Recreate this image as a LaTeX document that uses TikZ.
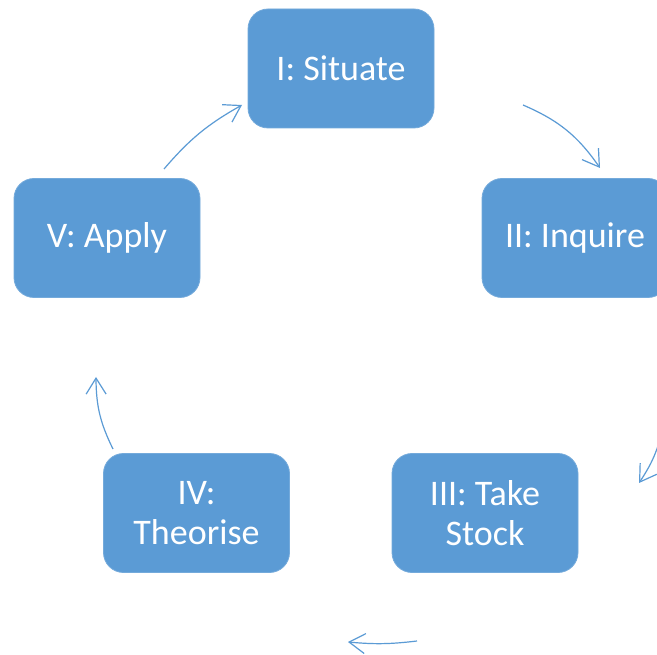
\documentclass[tikz,border=0pt]{standalone}
\usepackage{fontspec}
\setmainfont{Carlito}
\usetikzlibrary{arrows.meta}
\definecolor{boxblue}{HTML}{5B9BD5}
\definecolor{arrblue}{HTML}{5B9BD5}
\tikzset{
  stagebox/.style={fill=boxblue, draw=boxblue!85!white, line width=0.8pt, rounded corners=20pt,
    minimum width=186pt, minimum height=119pt, inner sep=0pt, text=white, align=center,
    font=\fontsize{36}{40}\selectfont},
  cyclearrow/.style={draw=arrblue, line width=1.2pt,
    -{Straight Barb[length=16pt, width=20pt, line width=1.2pt]}},
}
\begin{document}
\begin{tikzpicture}[x=1pt, y=1pt]
\clip (0,0) rectangle (657,-655);
\fill[white] (0,0) rectangle (657,-655);
\node[stagebox] (s1) at (341,-68.5) {I: Situate};
\node[stagebox] (s2) at (575,-238) {II: Inquire};
\node[stagebox] (s3) at (485,-513) {III: Take\\Stock};
\node[stagebox] (s4) at (196.5,-513) {IV:\\Theorise};
\node[stagebox] (s5) at (107,-238) {V: Apply};
\coordinate (a1s) at (523,-105);
\coordinate (a1e) at (600,-168);
\coordinate (a2s) at (664,-420);
\coordinate (a2e) at (639,-483);
\coordinate (a3s) at (417,-641);
\coordinate (a3e) at (348,-642);
\coordinate (a4s) at (113,-449);
\coordinate (a4e) at (96,-377);
\coordinate (a5s) at (164,-169);
\coordinate (a5e) at (242,-105);
\draw[cyclearrow] (a1s) to[bend left=16] (a1e);
\draw[cyclearrow] (a2s) to[bend left=12] (a2e);
\draw[cyclearrow] (a3s) to[bend left=6] (a3e);
\draw[cyclearrow] (a4s) to[bend left=13] (a4e);
\draw[cyclearrow] (a5s) to[bend left=10] (a5e);
\end{tikzpicture}
\end{document}
